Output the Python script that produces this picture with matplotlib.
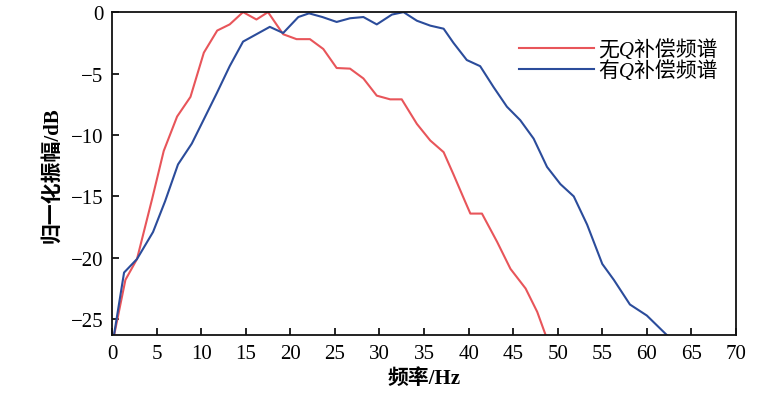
import matplotlib
matplotlib.use("Agg")
import matplotlib.pyplot as plt

# spectra (frequency in Hz, normalised amplitude in dB)
freq_noq = [0.15, 1.5, 2.8, 4.5, 5.8, 7.3, 8.8, 10.3, 11.8, 13.2, 14.7, 16.2,
            17.5, 19.2, 20.7, 22.2, 23.7, 25.2, 26.7, 28.2, 29.7, 31.2, 32.5,
            34.2, 35.7, 37.2, 38.3, 39.6, 40.2, 41.5, 43.2, 44.7, 46.4, 47.7,
            48.8]
amp_noq = [-26.6, -21.8, -20.1, -15.2, -11.3, -8.5, -6.9, -3.3, -1.5, -1.0,
           0.0, -0.6, 0.0, -1.8, -2.2, -2.2, -3.0, -4.55, -4.6, -5.4, -6.8,
           -7.1, -7.1, -9.1, -10.45, -11.4, -13.2, -15.4, -16.4, -16.4, -18.7,
           -20.9, -22.5, -24.4, -26.6]

freq_q = [0.15, 1.35, 2.8, 4.6, 5.95, 7.4, 8.95, 10.25, 11.75, 13.2, 14.7,
          16.2, 17.7, 19.2, 20.9, 22.1, 23.6, 25.2, 26.7, 28.2, 29.7, 31.4,
          32.7, 34.2, 35.7, 37.2, 38.3, 39.8, 41.3, 42.8, 44.3, 45.8, 47.3,
          48.8, 50.3, 51.8, 53.3, 55.0, 56.3, 58.1, 60.0, 62.4, 63.0]
amp_q = [-26.6, -21.2, -20.1, -17.9, -15.4, -12.4, -10.7, -8.8, -6.6, -4.4,
         -2.4, -1.8, -1.2, -1.7, -0.4, -0.1, -0.4, -0.8, -0.5, -0.4, -1.0,
         -0.2, 0.0, -0.7, -1.1, -1.35, -2.5, -3.9, -4.4, -6.1, -7.7, -8.8,
         -10.3, -12.6, -14.0, -15.0, -17.3, -20.5, -21.8, -23.8, -24.7, -26.4,
         -26.6]

labels = ["无Q补偿频谱", "有Q补偿频谱"]
x_ticks = list(range(0, 71, 5))
y_ticks = [0, -5, -10, -15, -20, -25]

serif_cjk = ["Liberation Serif", "Noto Sans CJK SC"]
plt.rcParams["font.family"] = serif_cjk
plt.rcParams["axes.unicode_minus"] = True

fig = plt.figure(figsize=(7.78, 4.10), dpi=100)
ax = fig.add_axes([0.144, 0.180, 0.802, 0.788])

ax.plot(freq_noq, amp_noq, color="#e8555a", lw=1.5, label=labels[0])
ax.plot(freq_q, amp_q, color="#2b4c9b", lw=1.5, label=labels[1])

ax.set_xlim(0, 70)
ax.set_ylim(-26.3, 0)
ax.set_xticks(x_ticks)
ax.set_yticks(y_ticks)
ax.tick_params(direction="in", length=5, width=1.2, labelsize=15,
               top=False, right=False, pad=6)
for s in ax.spines.values():
    s.set_linewidth(1.3)
    s.set_color("#111111")

ax.set_xlabel("频率/Hz", fontsize=15, weight="bold", labelpad=4)
ax.set_ylabel("归一化振幅/dB", fontsize=15, weight="bold", labelpad=6)

# Q is italic in the original; CJK glyphs fall back to the upright face
ax.legend(loc="upper right", bbox_to_anchor=(0.99, 0.955), frameon=False,
          prop={"family": serif_cjk, "size": 15, "style": "italic"},
          handlelength=3.6, handletextpad=0.2, labelspacing=0.02,
          borderaxespad=0.2)

fig.savefig("out.png", dpi=100, facecolor="white")
